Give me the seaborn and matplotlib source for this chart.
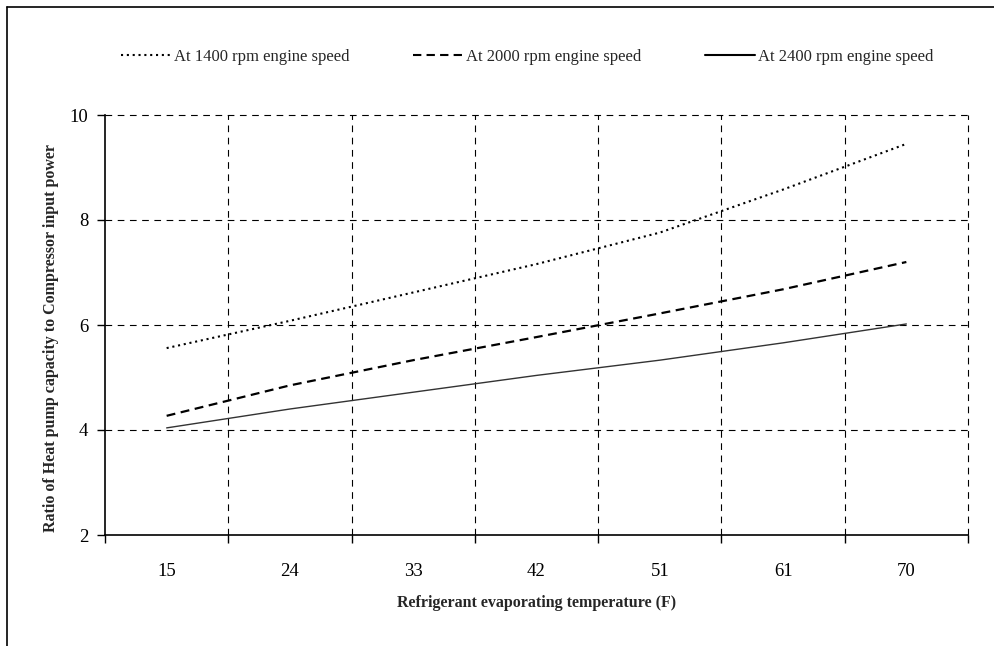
import matplotlib
matplotlib.use("Agg")
import matplotlib.pyplot as plt
from matplotlib.lines import Line2D
import seaborn as sns
import pandas as pd

# Evaporating temperatures (F) shown on the category axis
temperatures = ["15", "24", "33", "42", "51", "61", "70"]

# Ratio of heat pump capacity to compressor input power at each engine speed
ratio_1400 = [5.56, 6.08, 6.62, 7.16, 7.76, 8.58, 9.45]
ratio_2000 = [4.27, 4.85, 5.33, 5.77, 6.22, 6.68, 7.20]
ratio_2400 = [4.04, 4.40, 4.72, 5.04, 5.33, 5.66, 6.02]

series_names = [
    "At 1400 rpm engine speed",
    "At 2000 rpm engine speed",
    "At 2400 rpm engine speed",
]
y_ticks = [2, 4, 6, 8, 10]

df = pd.concat(
    [
        pd.DataFrame({"temp": temperatures, "ratio": vals, "series": name})
        for name, vals in zip(series_names, [ratio_1400, ratio_2000, ratio_2400])
    ],
    ignore_index=True,
)

sns.set_theme(style="white")
plt.rcParams["font.family"] = ["Liberation Serif", "DejaVu Serif"]

fig = plt.figure(figsize=(9.94, 6.46), dpi=100)
ax = fig.add_axes([105 / 994, 1 - 535 / 646, (968 - 105) / 994, (535 - 115) / 646])

dash_map = {
    series_names[0]: (1, 1.8),
    series_names[1]: (4, 2.5),
    series_names[2]: "",
}
width_map = {series_names[0]: 1.5, series_names[1]: 1.6, series_names[2]: 1.0}

sns.lineplot(
    data=df, x="temp", y="ratio", style="series", dashes=dash_map,
    color="black", sort=False, ax=ax, legend=True,
)
for line, name in zip(ax.get_lines(), series_names):
    line.set_linewidth(width_map[name])
    if name == series_names[2]:
        line.set_color("#333333")

n = len(temperatures)
ax.set_xlim(-0.5, n - 0.5)
ax.set_ylim(2, 10)
ax.set_yticks(y_ticks)
ax.set_xticks(range(n))
ax.set_xticklabels(temperatures)
ax.set_xticks([i - 0.5 for i in range(n + 1)], minor=True)

grid_kw = dict(color="black", linewidth=0.8, linestyle=(0, (6, 5)), clip_on=False)
for y in y_ticks[1:]:
    ax.axhline(y, zorder=0, **grid_kw)
for x in [i - 0.5 for i in range(1, n + 1)]:
    ax.axvline(x, zorder=0, **grid_kw)

for side in ["top", "right"]:
    ax.spines[side].set_visible(False)
for side in ["left", "bottom"]:
    ax.spines[side].set_color("black")
    ax.spines[side].set_linewidth(1.2)

ax.tick_params(axis="x", which="major", length=0, labelsize=13.5, pad=20, colors="black")
ax.tick_params(axis="x", which="minor", length=6, width=1, direction="out", color="black", bottom=True)
ax.tick_params(axis="y", length=6, width=1, direction="out", labelsize=13.5, pad=6, colors="black", left=True)

ax.set_xlabel("Refrigerant evaporating temperature (F)", fontsize=11.5,
              fontweight="bold", labelpad=11)
ax.set_ylabel("Ratio of Heat pump capacity to Compressor input power", fontsize=11.5,
              fontweight="bold", labelpad=9)
ax.yaxis.set_label_coords(-0.053, 0.47)

handles, labels = ax.get_legend_handles_labels()
ax.get_legend().remove()
leg = fig.legend(
    handles, labels, loc="center", bbox_to_anchor=(527 / 994, 1 - 57 / 646),
    ncol=3, frameon=False, fontsize=12, handlelength=3.0, handletextpad=0.2,
    columnspacing=3.8,
)
for h in leg.get_lines():
    h.set_color("black")

# Frame lines along the top and left edges of the figure
fig.add_artist(Line2D([7 / 994, 1], [1 - 7 / 646, 1 - 7 / 646], color="black", linewidth=1.2))
fig.add_artist(Line2D([7 / 994, 7 / 994], [0, 1 - 7 / 646], color="black", linewidth=1.2))

fig.savefig("out.png", dpi=100, facecolor="white")
